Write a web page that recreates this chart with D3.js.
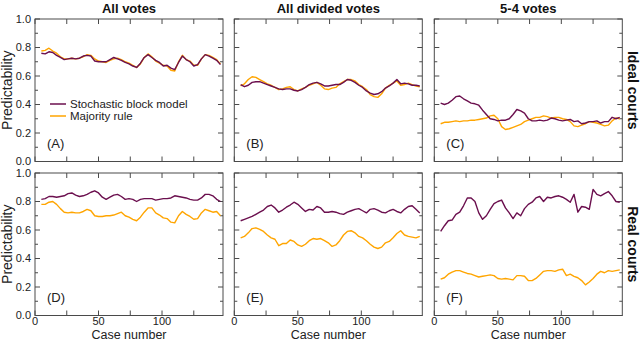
<!DOCTYPE html>
<html>
<head>
<meta charset="utf-8">
<script src="https://cdn.jsdelivr.net/npm/d3@7"></script>
<style>
  body { margin: 0; background: #fff; }
  svg { display: block; font-family: "Liberation Sans", Arial, sans-serif; }
</style>
</head>
<body>
<div id="chart"></div>
<script>
// case numbers sampled along the x axis
const caseNums = [5, 8, 11, 14, 17, 20, 23, 26, 29, 32, 35, 38, 41, 44, 47, 50, 53, 56, 59, 62, 65, 68, 71, 74,
                  77, 80, 83, 86, 89, 92, 95, 98, 101, 104, 107, 110, 113, 116, 119, 122, 125, 128, 131, 134, 137, 140, 143, 146];

// ideal courts
const sbmIdealAll = [0.76, 0.755, 0.77, 0.765, 0.745, 0.73, 0.715, 0.72, 0.725, 0.72, 0.725, 0.74, 0.745, 0.74, 0.705, 0.70, 0.70, 0.70, 0.715, 0.73, 0.72, 0.71, 0.695, 0.685,
                     0.67, 0.66, 0.69, 0.73, 0.75, 0.73, 0.71, 0.695, 0.67, 0.675, 0.655, 0.645, 0.695, 0.74, 0.715, 0.70, 0.67, 0.68, 0.72, 0.75, 0.74, 0.725, 0.71, 0.68];
const mrIdealAll = [0.775, 0.78, 0.795, 0.775, 0.76, 0.735, 0.72, 0.72, 0.725, 0.72, 0.725, 0.735, 0.75, 0.745, 0.72, 0.705, 0.70, 0.695, 0.71, 0.72, 0.725, 0.715, 0.70, 0.69,
                    0.675, 0.66, 0.685, 0.73, 0.755, 0.735, 0.705, 0.69, 0.675, 0.67, 0.64, 0.635, 0.70, 0.745, 0.715, 0.705, 0.675, 0.675, 0.72, 0.75, 0.745, 0.73, 0.715, 0.685];
const sbmIdealDiv = [0.54, 0.525, 0.535, 0.555, 0.56, 0.56, 0.55, 0.54, 0.53, 0.52, 0.51, 0.505, 0.51, 0.51, 0.50, 0.495, 0.505, 0.52, 0.54, 0.55, 0.555, 0.545, 0.53, 0.53,
                     0.535, 0.54, 0.54, 0.555, 0.575, 0.57, 0.555, 0.535, 0.52, 0.495, 0.48, 0.47, 0.475, 0.49, 0.515, 0.53, 0.55, 0.575, 0.545, 0.55, 0.545, 0.535, 0.535, 0.53];
const mrIdealDiv = [0.53, 0.545, 0.575, 0.595, 0.59, 0.575, 0.56, 0.545, 0.535, 0.52, 0.505, 0.51, 0.52, 0.525, 0.505, 0.495, 0.51, 0.52, 0.535, 0.545, 0.555, 0.535, 0.51, 0.505,
                    0.515, 0.52, 0.545, 0.56, 0.575, 0.575, 0.565, 0.54, 0.525, 0.505, 0.47, 0.455, 0.45, 0.475, 0.515, 0.535, 0.55, 0.565, 0.535, 0.54, 0.55, 0.54, 0.53, 0.525];
const sbmIdeal54 = [0.41, 0.40, 0.41, 0.43, 0.455, 0.46, 0.44, 0.425, 0.41, 0.405, 0.395, 0.36, 0.33, 0.30, 0.295, 0.285, 0.29, 0.29, 0.30, 0.33, 0.365, 0.355, 0.34, 0.30,
                    0.285, 0.285, 0.29, 0.285, 0.29, 0.305, 0.30, 0.29, 0.285, 0.29, 0.295, 0.28, 0.285, 0.265, 0.27, 0.28, 0.28, 0.285, 0.27, 0.28, 0.28, 0.31, 0.30, 0.31];
const mrIdeal54 = [0.265, 0.275, 0.275, 0.28, 0.285, 0.28, 0.285, 0.285, 0.29, 0.29, 0.295, 0.30, 0.305, 0.32, 0.325, 0.30, 0.245, 0.225, 0.23, 0.24, 0.25, 0.26, 0.28, 0.29,
                   0.30, 0.31, 0.31, 0.32, 0.315, 0.305, 0.31, 0.31, 0.30, 0.295, 0.28, 0.25, 0.245, 0.255, 0.265, 0.28, 0.275, 0.27, 0.26, 0.25, 0.255, 0.285, 0.305, 0.30];

// real courts
const sbmRealAll = [0.815, 0.82, 0.835, 0.835, 0.83, 0.835, 0.84, 0.855, 0.86, 0.845, 0.835, 0.84, 0.85, 0.865, 0.875, 0.86, 0.83, 0.815, 0.83, 0.845, 0.85, 0.835, 0.815, 0.82,
                    0.815, 0.80, 0.815, 0.82, 0.82, 0.82, 0.81, 0.815, 0.82, 0.82, 0.825, 0.84, 0.835, 0.83, 0.825, 0.815, 0.81, 0.81, 0.825, 0.85, 0.85, 0.84, 0.815, 0.80];
const mrRealAll = [0.78, 0.78, 0.795, 0.80, 0.78, 0.75, 0.725, 0.72, 0.725, 0.72, 0.72, 0.73, 0.745, 0.735, 0.70, 0.695, 0.695, 0.70, 0.70, 0.705, 0.715, 0.725, 0.70, 0.69,
                   0.675, 0.665, 0.69, 0.725, 0.755, 0.755, 0.72, 0.705, 0.685, 0.68, 0.655, 0.65, 0.70, 0.73, 0.71, 0.695, 0.675, 0.68, 0.72, 0.745, 0.735, 0.725, 0.73, 0.70];
const sbmRealDiv = [0.665, 0.675, 0.685, 0.695, 0.71, 0.725, 0.74, 0.765, 0.775, 0.755, 0.725, 0.74, 0.76, 0.775, 0.795, 0.78, 0.755, 0.73, 0.745, 0.74, 0.765, 0.755, 0.725, 0.725,
                    0.73, 0.725, 0.715, 0.71, 0.725, 0.735, 0.745, 0.75, 0.735, 0.72, 0.745, 0.75, 0.74, 0.725, 0.72, 0.735, 0.745, 0.73, 0.72, 0.745, 0.765, 0.77, 0.745, 0.72];
const mrRealDiv = [0.545, 0.555, 0.58, 0.61, 0.615, 0.605, 0.59, 0.565, 0.545, 0.535, 0.49, 0.505, 0.505, 0.53, 0.52, 0.495, 0.485, 0.50, 0.525, 0.54, 0.535, 0.54, 0.525, 0.51,
                   0.485, 0.495, 0.525, 0.565, 0.59, 0.595, 0.58, 0.555, 0.545, 0.525, 0.50, 0.48, 0.47, 0.48, 0.51, 0.52, 0.545, 0.575, 0.595, 0.565, 0.555, 0.55, 0.545, 0.555];
const sbmReal54 = [0.59, 0.63, 0.665, 0.67, 0.71, 0.725, 0.77, 0.825, 0.825, 0.80, 0.72, 0.675, 0.70, 0.745, 0.785, 0.80, 0.81, 0.755, 0.72, 0.68, 0.72, 0.70, 0.75, 0.78,
                   0.795, 0.825, 0.835, 0.80, 0.83, 0.825, 0.835, 0.84, 0.83, 0.815, 0.795, 0.85, 0.725, 0.765, 0.76, 0.745, 0.885, 0.85, 0.84, 0.855, 0.87, 0.84, 0.80, 0.795];
const mrReal54 = [0.255, 0.265, 0.29, 0.305, 0.315, 0.315, 0.305, 0.295, 0.29, 0.28, 0.27, 0.275, 0.28, 0.285, 0.28, 0.26, 0.255, 0.26, 0.255, 0.25, 0.28, 0.28, 0.275, 0.245,
                  0.245, 0.26, 0.285, 0.31, 0.315, 0.315, 0.31, 0.32, 0.325, 0.28, 0.29, 0.275, 0.265, 0.245, 0.215, 0.235, 0.26, 0.29, 0.31, 0.30, 0.315, 0.31, 0.315, 0.32];

const colTitles = ["All votes", "All divided votes", "5-4 votes"];
const rowTitles = ["Ideal courts", "Real courts"];
const panelLetters = ["(A)", "(B)", "(C)", "(D)", "(E)", "(F)"];
const seriesNames = ["Stochastic block model", "Majority rule"];
const xTickLabels = [0, 50, 100];
const yTickLabels = [0, 0.2, 0.4, 0.6, 0.8, 1.0];

const panelData = [
    [sbmIdealAll, mrIdealAll], [sbmIdealDiv, mrIdealDiv], [sbmIdeal54, mrIdeal54],
    [sbmRealAll, mrRealAll], [sbmRealDiv, mrRealDiv], [sbmReal54, mrReal54]
];

const width = 640, height = 341;
const colors = ["#6b0f4e", "#ffa500"];
const frameColor = "#4a4a4a";

const colX = [35, 234.3, 434.3];
const rowY = [19, 173];
const pw = 188, ph = 142.5;

const svg = d3.select("#chart").append("svg")
    .attr("width", width)
    .attr("height", height);

const x = d3.scaleLinear().domain([0, 148]).range([0, pw]);
const y = d3.scaleLinear().domain([0, 1]).range([ph, 0]);

const line = d3.line()
    .x((d, i) => x(caseNums[i]))
    .y(d => y(d));

panelData.forEach((series, p) => {
    const row = Math.floor(p / 3), col = p % 3;
    const g = svg.append("g").attr("transform", `translate(${colX[col]},${rowY[row]})`);

    // ticks, inside, on all four sides
    const xTicks = d3.range(0, 149, 25);
    const yTicks = d3.range(0, 11).map(v => v / 10);
    xTicks.forEach(t => {
        g.append("line").attr("x1", x(t)).attr("x2", x(t)).attr("y1", ph).attr("y2", ph - 5)
            .style("stroke", frameColor);
        g.append("line").attr("x1", x(t)).attr("x2", x(t)).attr("y1", 0).attr("y2", 5)
            .style("stroke", frameColor);
    });
    yTicks.forEach((t, i) => {
        const len = i % 2 === 0 ? 5 : 3;
        g.append("line").attr("x1", 0).attr("x2", len).attr("y1", y(t)).attr("y2", y(t))
            .style("stroke", frameColor);
        g.append("line").attr("x1", pw).attr("x2", pw - len).attr("y1", y(t)).attr("y2", y(t))
            .style("stroke", frameColor);
    });

    // data lines: majority rule drawn first, block model on top
    [1, 0].forEach(s => {
        g.append("path")
            .datum(series[s])
            .attr("d", line)
            .style("fill", "none")
            .style("stroke", colors[s])
            .style("stroke-width", 1.4)
            .style("stroke-linejoin", "round");
    });

    g.append("rect")
        .attr("width", pw).attr("height", ph)
        .style("fill", "none")
        .style("stroke", frameColor)
        .style("stroke-width", 1);

    g.append("text")
        .attr("x", 12).attr("y", ph - 14)
        .text(panelLetters[p])
        .style("font-size", "13px")
        .style("fill", "#222");

    // y tick labels on the left column only
    if (col === 0) {
        yTickLabels.forEach(t => {
            g.append("text")
                .attr("x", -4).attr("y", y(t))
                .attr("dy", "0.35em")
                .attr("text-anchor", "end")
                .text(t.toFixed(1))
                .style("font-size", "11px")
                .style("fill", "#222");
        });
        g.append("text")
            .attr("transform", `translate(-23,${ph / 2}) rotate(-90)`)
            .attr("text-anchor", "middle")
            .text("Predictability")
            .style("font-size", "14px")
            .style("fill", "#222");
    }

    if (row === 0) {
        g.append("text")
            .attr("x", pw / 2).attr("y", -6)
            .attr("text-anchor", "middle")
            .text(colTitles[col])
            .style("font-size", "13px")
            .style("font-weight", "bold")
            .style("fill", "#111");
    }

    if (row === 1) {
        xTickLabels.forEach(t => {
            g.append("text")
                .attr("x", x(t)).attr("y", ph + 9)
                .attr("text-anchor", "middle")
                .text(t)
                .style("font-size", "11px")
                .style("fill", "#222");
        });
        g.append("text")
            .attr("x", pw / 2).attr("y", ph + 23)
            .attr("text-anchor", "middle")
            .text("Case number")
            .style("font-size", "12.5px")
            .style("fill", "#222");
    }

    if (col === 2) {
        g.append("text")
            .attr("transform", `translate(${pw + 11},${ph / 2}) rotate(90)`)
            .attr("text-anchor", "middle")
            .attr("dy", "0.35em")
            .text(rowTitles[row])
            .style("font-size", "14px")
            .style("font-weight", "bold")
            .style("fill", "#111");
    }

    // legend in panel A
    if (p === 0) {
        seriesNames.forEach((name, s) => {
            const ly = 85 + s * 12;
            g.append("line")
                .attr("x1", 15).attr("x2", 31).attr("y1", ly).attr("y2", ly)
                .style("stroke", colors[s])
                .style("stroke-width", 1.5);
            g.append("text")
                .attr("x", 35).attr("y", ly)
                .attr("dy", "0.35em")
                .text(name)
                .style("font-size", "11.5px")
                .style("fill", "#222");
        });
    }
});
</script>
</body>
</html>
